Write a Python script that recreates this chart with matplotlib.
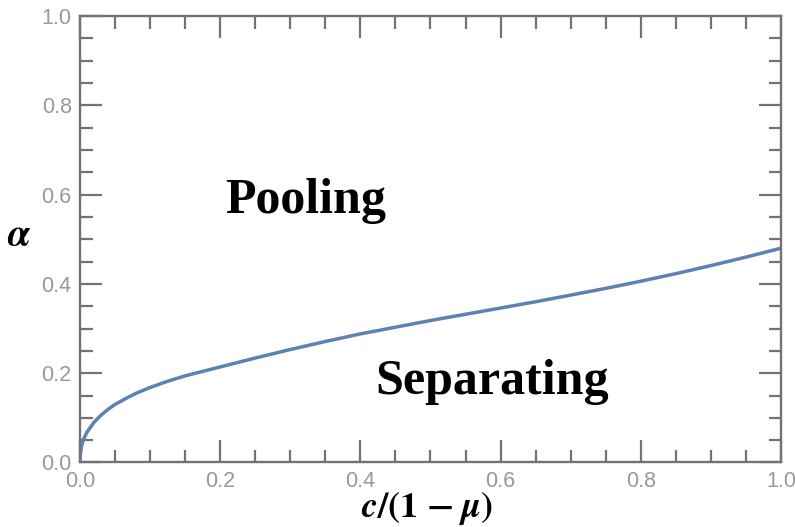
import matplotlib

matplotlib.use("Agg")
import matplotlib.pyplot as plt
from matplotlib.ticker import MultipleLocator

plt.rcParams["mathtext.fontset"] = "stix"

# boundary between the two regions
c_ratio = [0.0, 0.0005, 0.002, 0.005, 0.01, 0.02, 0.03, 0.04, 0.05, 0.065, 0.08,
           0.1, 0.125, 0.15, 0.175, 0.2, 0.25, 0.3, 0.35, 0.4, 0.45, 0.5, 0.55,
           0.6, 0.65, 0.7, 0.75, 0.8, 0.85, 0.9, 0.95, 1.0]
alpha = [0.0, 0.018, 0.035, 0.052, 0.068, 0.09, 0.106, 0.119, 0.13, 0.143, 0.155,
         0.168, 0.182, 0.194, 0.204, 0.214, 0.234, 0.253, 0.271, 0.288, 0.303, 0.318, 0.332,
         0.346, 0.36, 0.375, 0.39, 0.406, 0.423, 0.441, 0.46, 0.48]

region_labels = ["Pooling", "Separating"]
region_x = [0.322, 0.588]
region_y = [0.585, 0.18]

AXIS_GRAY = "#737373"
LABEL_GRAY = "#999999"
LINE_BLUE = "#5e81b5"

fig = plt.figure(figsize=(7.95, 5.27), dpi=100)
ax = fig.add_axes([0.1006, 0.1224, 0.8818, 0.8472])

ax.plot(c_ratio, alpha, color=LINE_BLUE, lw=2.5, solid_capstyle="round", solid_joinstyle="round")

ax.set_xlim(0, 1)
ax.set_ylim(0, 1)
ax.xaxis.set_major_locator(MultipleLocator(0.2))
ax.xaxis.set_minor_locator(MultipleLocator(0.05))
ax.yaxis.set_major_locator(MultipleLocator(0.2))
ax.yaxis.set_minor_locator(MultipleLocator(0.05))
ax.tick_params(which="both", direction="in", top=True, right=True, color=AXIS_GRAY, width=1.6)
ax.tick_params(which="major", length=16, labelsize=15.5, labelcolor=LABEL_GRAY, pad=6)
ax.tick_params(which="minor", length=9)
ax.set_xticklabels([f"{v:.1f}" for v in ax.get_xticks()], family="Liberation Sans")
ax.set_yticklabels([f"{v:.1f}" for v in ax.get_yticks()], family="Liberation Sans")
for spine in ax.spines.values():
    spine.set_color(AXIS_GRAY)
    spine.set_linewidth(1.7)

for label, x, y in zip(region_labels, region_x, region_y):
    ax.text(x, y, label, ha="center", va="center", fontsize=36, fontweight="bold",
            family="Liberation Serif", color="black")

ax.text(-0.086, 0.51, r"$\boldsymbol{\alpha}$", transform=ax.transAxes,
        ha="center", va="center", fontsize=28)
ax.text(0.494, -0.104, r"$\boldsymbol{c/(1\,-\,\mu)}$", transform=ax.transAxes,
        ha="center", va="center", fontsize=26)

fig.savefig("out.png", dpi=100)
plt.close(fig)
